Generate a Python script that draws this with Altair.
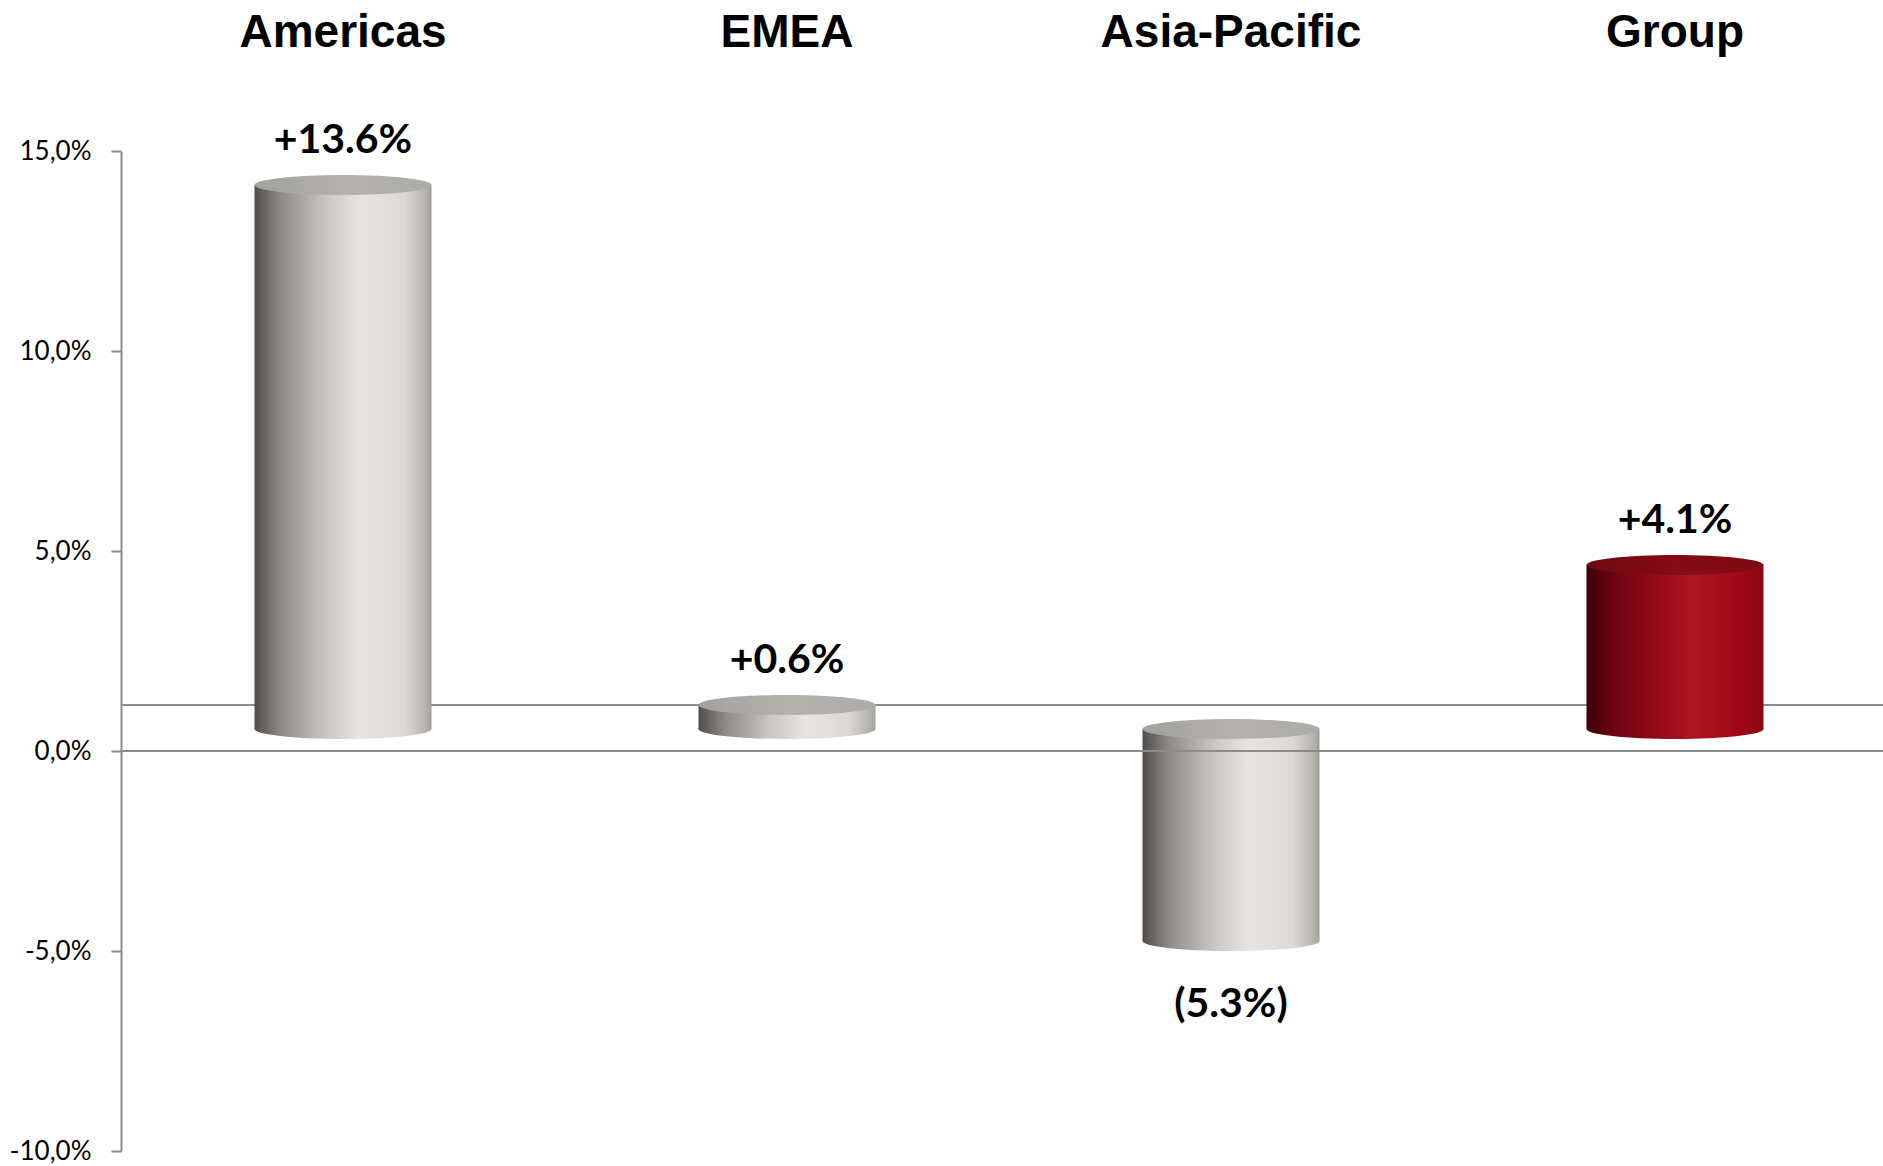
import altair as alt
import pandas as pd

regions = ["Americas", "EMEA", "Asia-Pacific", "Group"]
growth = [13.6, 0.6, -5.3, 4.1]
labels = ["+13.6%", "+0.6%", "(5.3%)", "+4.1%"]
is_group = [False, False, False, True]
y_ticks = [-10, -5, 0, 5, 10, 15]

df = pd.DataFrame({"region": regions, "v": growth, "label": labels, "grp": is_group})

W, H = 1762, 1000
BAR_W = 177
OFF = -22  # 3D depth shift of the bars (pixels)

gray_side = alt.Gradient(
    gradient="linear", x1=0, x2=1, y1=0, y2=0,
    stops=[
        alt.GradientStop(offset=0.0, color="#4f4c49"),
        alt.GradientStop(offset=0.15, color="#8e8b87"),
        alt.GradientStop(offset=0.4, color="#c9c5c0"),
        alt.GradientStop(offset=0.6, color="#e8e4e0"),
        alt.GradientStop(offset=0.85, color="#dcd8d4"),
        alt.GradientStop(offset=0.97, color="#b5b2ae"),
        alt.GradientStop(offset=1.0, color="#a09e9a"),
    ],
)
gray_cap = alt.Gradient(
    gradient="linear", x1=0, x2=1, y1=0, y2=0,
    stops=[
        alt.GradientStop(offset=0.0, color="#a3a19c"),
        alt.GradientStop(offset=0.5, color="#b3b1ac"),
        alt.GradientStop(offset=1.0, color="#aeaca7"),
    ],
)
red_side = alt.Gradient(
    gradient="linear", x1=0, x2=1, y1=0, y2=0,
    stops=[
        alt.GradientStop(offset=0.0, color="#3d0008"),
        alt.GradientStop(offset=0.15, color="#6a0510"),
        alt.GradientStop(offset=0.4, color="#950a16"),
        alt.GradientStop(offset=0.6, color="#b01520"),
        alt.GradientStop(offset=0.85, color="#a00816"),
        alt.GradientStop(offset=1.0, color="#8a0712"),
    ],
)
red_cap = alt.Gradient(
    gradient="linear", x1=0, x2=1, y1=0, y2=0,
    stops=[
        alt.GradientStop(offset=0.0, color="#6e0810"),
        alt.GradientStop(offset=0.5, color="#850b14"),
        alt.GradientStop(offset=1.0, color="#7d0a12"),
    ],
)

k = 0.113
c = round(k * 0.5523, 4)
ELLIPSE = (
    f"M-1,0 C-1,{-c} -0.5523,{-k} 0,{-k} C0.5523,{-k} 1,{-c} 1,0 "
    f"C1,{c} 0.5523,{k} 0,{k} C-0.5523,{k} -1,{c} -1,0 Z"
)

x_enc = alt.X(
    "region:N", sort=regions, title=None,
    scale=alt.Scale(range=[0, 1776], paddingInner=0, paddingOuter=0),
    axis=alt.Axis(
        orient="top", domain=False, ticks=False, labelAngle=0, labelLimit=0,
        labelFont="Liberation Sans", labelFontWeight="bold", labelFontSize=46,
        labelColor="#000000", labelBaseline="alphabetic", labelPadding=105,
    ),
)
y_scale = alt.Scale(domain=[-10, 15], nice=False, zero=False)

base = alt.Chart(df).transform_calculate(
    top="max(datum.v, 0)", bot="min(datum.v, 0)"
)


def cylinder(sel, side, cap):
    d = base.transform_filter(sel)
    bottom = d.mark_point(
        shape=ELLIPSE, size=BAR_W * BAR_W, filled=True, fill=side,
        opacity=1, strokeWidth=0, yOffset=OFF,
    ).encode(x=x_enc, y=alt.Y("bot:Q", scale=y_scale, title=None))
    body = d.mark_bar(
        fill=side, size=BAR_W, yOffset=OFF, y2Offset=OFF,
    ).encode(x=x_enc, y=alt.Y("top:Q", scale=y_scale, title=None), y2="bot:Q")
    top = d.mark_point(
        shape=ELLIPSE, size=BAR_W * BAR_W, filled=True, fill=cap,
        opacity=1, strokeWidth=0, yOffset=OFF,
    ).encode(x=x_enc, y=alt.Y("top:Q", scale=y_scale, title=None))
    return [bottom, body, top]


floor_rule = alt.Chart(df).mark_rule(
    color="#8c8c8c", strokeWidth=2, yOffset=-46
).encode(y=alt.Y(datum=0, scale=y_scale, title=None))

zero_rule = alt.Chart(df).mark_rule(color="#8c8c8c", strokeWidth=2).encode(
    y=alt.Y(
        datum=0, scale=y_scale, title=None,
        axis=alt.Axis(
            values=y_ticks,
            labelExpr="(datum.value < 0 ? '-' : '') + replace(format(abs(datum.value), '.1f'), '.', ',') + '%'",
            grid=False, domainColor="#8c8c8c", domainWidth=2,
            tickColor="#8c8c8c", tickWidth=2, tickSize=10,
            labelFont="Lato", labelFontSize=26, labelColor="#000000",
            labelPadding=20,
        ),
    )
)

pos_labels = base.transform_filter("datum.v >= 0").mark_text(
    font="Lato", fontWeight="bold", fontSize=41, color="#000000",
    baseline="alphabetic", dy=-54,
).encode(x=x_enc, y=alt.Y("v:Q", scale=y_scale, title=None), text="label:N")

neg_labels = base.transform_filter("datum.v < 0").mark_text(
    font="Lato", fontWeight="bold", fontSize=41, color="#000000",
    baseline="top", dy=22,
).encode(x=x_enc, y=alt.Y("v:Q", scale=y_scale, title=None), text="label:N")

layers = [floor_rule]
layers += cylinder("!datum.grp", gray_side, gray_cap)
layers += cylinder("datum.grp", red_side, red_cap)
layers += [zero_rule, pos_labels, neg_labels]

chart = alt.layer(*layers).properties(
    width=W, height=H,
    autosize=alt.AutoSizeParams(type="none"),
    padding={"left": 121, "top": 151, "right": 0, "bottom": 15},
    background="#ffffff",
).configure_view(stroke=None)

chart.save("out.html", embed_options={"renderer": "svg", "actions": False})
